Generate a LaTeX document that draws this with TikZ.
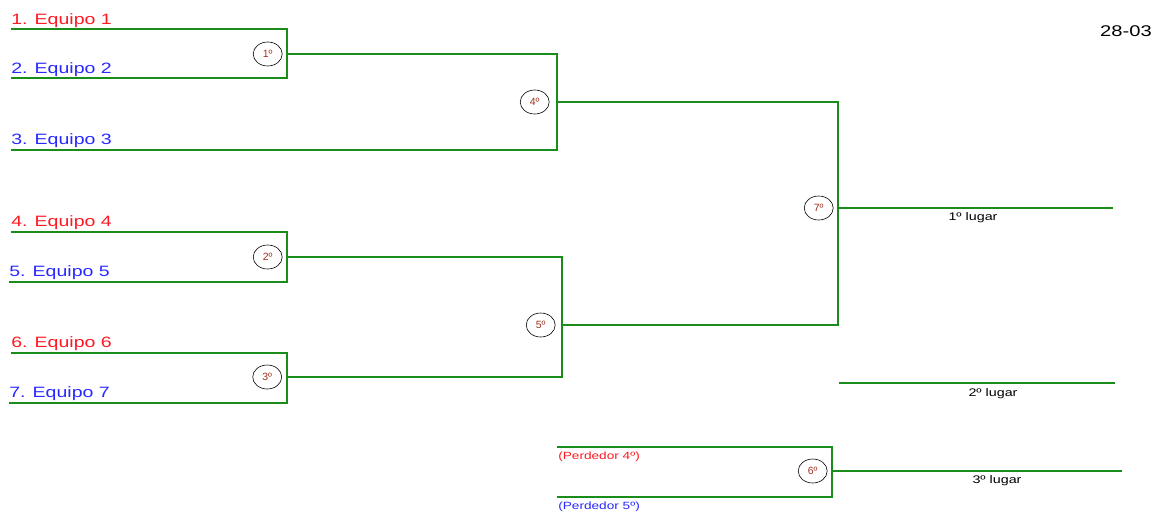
\documentclass[tikz,border=0pt]{standalone}
\usepackage{fontspec}
\setmainfont{Liberation Sans}
\usetikzlibrary{positioning,shapes.geometric}
\definecolor{wiregreen}{RGB}{25,140,25}
\definecolor{teamred}{RGB}{255,25,35}
\definecolor{teamblue}{RGB}{40,40,255}
\definecolor{gamebrown}{RGB}{160,50,30}

\begin{document}
\begin{tikzpicture}[x=1pt,y=-1pt,
  wire/.style={draw=wiregreen,line width=1.2pt},
  team/.style={anchor=base west,inner sep=0pt,xscale=1.3,font=\fontsize{15}{15}\selectfont},
  game/.style={ellipse,draw=black,line width=0.6pt,minimum width=29pt,minimum height=24pt,inner sep=0pt,font=\fontsize{10.5}{10.5}\selectfont,text=gamebrown},
  placetxt/.style={inner sep=0pt,xscale=1.3,font=\fontsize{11}{11}\selectfont},
  loser/.style={anchor=west,inner sep=0pt,xscale=1.3,font=\fontsize{10.5}{10.5}\selectfont}]
\useasboundingbox (0,0) rectangle (1155,512);
\coordinate (s1) at (11,29);
\coordinate (s2) at (11,78);
\coordinate (s3) at (11,150);
\coordinate (s4) at (11,232);
\coordinate (s5) at (9,282);
\coordinate (s6) at (11,353);
\coordinate (s7) at (9,403);
\coordinate (j1) at (287,54);
\coordinate (j2) at (287,257);
\coordinate (j3) at (287,377);
\coordinate (j4) at (557,102);
\coordinate (j5) at (562,325);
\coordinate (j7) at (838,208);
\coordinate (j6) at (832,471);
\coordinate (p4) at (557,447);
\coordinate (p5) at (557,497);
\coordinate (w1) at (1113,208);
\coordinate (w2a) at (839,383);
\coordinate (w2b) at (1115,383);
\coordinate (w3) at (1122,471);
\node[team,text=teamred] (e1) at ([yshift=5pt]s1) {1. Equipo 1};
\node[team,text=teamblue] (e2) at ([yshift=5pt]s2) {2. Equipo 2};
\node[team,text=teamblue] (e3) at ([yshift=6pt]s3) {3. Equipo 3};
\node[team,text=teamred] (e4) at ([yshift=6pt]s4) {4. Equipo 4};
\node[team,text=teamblue] (e5) at ([yshift=6pt]s5) {5. Equipo 5};
\node[team,text=teamred] (e6) at ([yshift=6pt]s6) {6. Equipo 6};
\node[team,text=teamblue] (e7) at ([yshift=6pt]s7) {7. Equipo 7};
\draw[wire] (s1) -| (j1);
\draw[wire] (s2) -| (j1);
\draw[wire] (s3) -| (j4);
\draw[wire] (j1) -| (j4);
\draw[wire] (s4) -| (j2);
\draw[wire] (s5) -| (j2);
\draw[wire] (s6) -| (j3);
\draw[wire] (s7) -| (j3);
\draw[wire] (j2) -| (j5);
\draw[wire] (j3) -| (j5);
\draw[wire] (j4) -| (j7);
\draw[wire] (j5) -| (j7);
\draw[wire] (j7) -- (w1);
\draw[wire] (w2a) -- (w2b);
\draw[wire] (p4) -| (j6);
\draw[wire] (p5) -| (j6);
\draw[wire] (j6) -- (w3);
\node[game,left=4.5pt of j1] (g1) {1º};
\node[game,left=7.5pt of j4] (g4) {4º};
\node[game,left=4.5pt of j2] (g2) {2º};
\node[game,left=5pt of j3] (g3) {3º};
\node[game,left=6.5pt of j5] (g5) {5º};
\node[game,left=4.5pt of j7] (g7) {7º};
\node[game,left=4.5pt of j6] (g6) {6º};
\node[loser,text=teamred] (l4) at (558,457) {(Perdedor 4º)};
\node[loser,text=teamblue] (l5) at (558,507) {(Perdedor 5º)};
\node[placetxt] (r1) at (973,218) {1º lugar};
\node[placetxt] (r2) at (993,394) {2º lugar};
\node[placetxt] (r3) at (997,481) {3º lugar};
\node[anchor=east,inner sep=0pt,xscale=1.3,font=\fontsize{15.5}{15.5}\selectfont] (date) at (1152,31) {28-03};
\end{tikzpicture}
\end{document}
